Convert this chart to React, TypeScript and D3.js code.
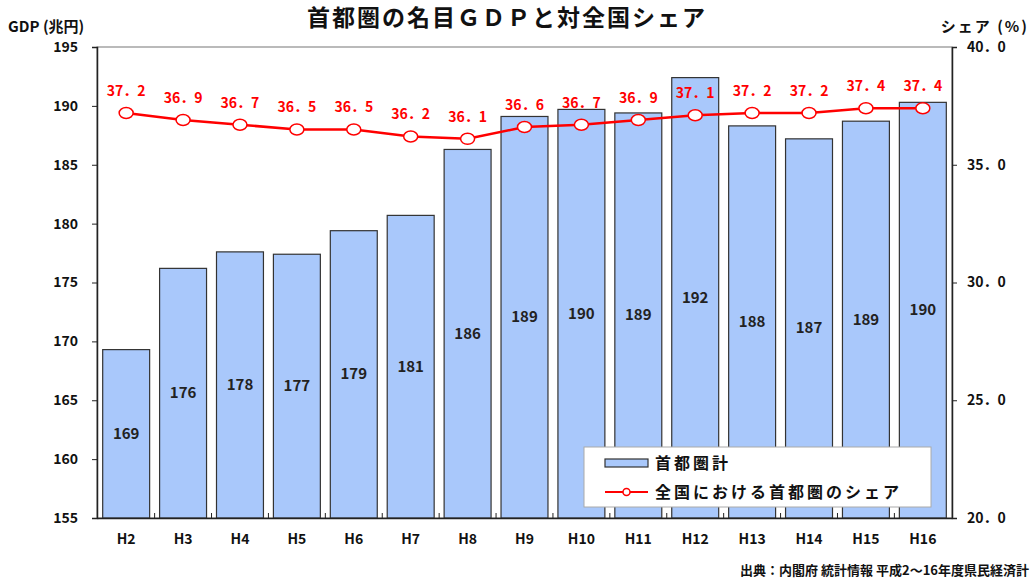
import React, { useEffect, useRef } from 'react';
import * as d3 from 'd3';

// Data
const years = ['H2', 'H3', 'H4', 'H5', 'H6', 'H7', 'H8', 'H9', 'H10', 'H11', 'H12', 'H13', 'H14', 'H15', 'H16'];
const gdp = [169.3, 176.2, 177.6, 177.4, 179.4, 180.7, 186.3, 189.1, 189.7, 189.4, 192.4, 188.3, 187.2, 188.7, 190.3];
const gdpLabels = ['169', '176', '178', '177', '179', '181', '186', '189', '190', '189', '192', '188', '187', '189', '190'];
const share = [37.2, 36.9, 36.7, 36.5, 36.5, 36.2, 36.1, 36.6, 36.7, 36.9, 37.1, 37.2, 37.2, 37.4, 37.4];
const leftTicks = [155, 160, 165, 170, 175, 180, 185, 190, 195];
const rightTicks = [20, 25, 30, 35, 40];

const FONT = '"Noto Sans CJK JP", "Noto Sans", sans-serif';

const App: React.FC = () => {
  const svgRef = useRef<SVGSVGElement>(null);

  useEffect(() => {
    document.body.style.margin = '0';
    if (!svgRef.current) return;

    const margin = { top: 47, right: 81, bottom: 61, left: 97 };
    const W = 1033;
    const H = 579;
    const width = W - margin.left - margin.right;
    const height = H - margin.top - margin.bottom;

    const svg = d3.select(svgRef.current);
    svg.selectAll('*').remove();

    const g = svg.append('g').attr('transform', `translate(${margin.left},${margin.top})`);

    const x = d3.scaleBand().domain(years).range([0, width]).paddingInner(0.175).paddingOuter(0.1);
    const y = d3.scaleLinear().domain([155, 195]).range([height, 0]);
    const y2 = d3.scaleLinear().domain([20, 40]).range([height, 0]);

    // Title & axis titles
    svg.append('text')
      .attr('x', 507).attr('y', 26)
      .attr('text-anchor', 'middle')
      .attr('font-family', FONT).attr('font-weight', 'bold').attr('font-size', 23)
      .attr('letter-spacing', 2)
      .attr('fill', '#111')
      .text('首都圏の名目ＧＤＰと対全国シェア');

    svg.append('text')
      .attr('x', 8).attr('y', 32)
      .attr('font-family', FONT).attr('font-weight', 'bold').attr('font-size', 15)
      .attr('fill', '#111')
      .text('GDP (兆円)');

    svg.append('text')
      .attr('x', 1029).attr('y', 32)
      .attr('text-anchor', 'end')
      .attr('font-family', FONT).attr('font-weight', 'bold').attr('font-size', 15)
      .attr('letter-spacing', 2)
      .attr('fill', '#111')
      .text('シェア (%)');

    // Frame
    g.append('rect')
      .attr('x', 0).attr('y', 0)
      .attr('width', width).attr('height', height)
      .attr('fill', 'none').attr('stroke', '#777').attr('stroke-width', 1);

    // Bars
    g.selectAll('.bar')
      .data(gdp)
      .enter()
      .append('rect')
      .attr('x', (_, i) => x(years[i])!)
      .attr('y', d => y(d))
      .attr('width', x.bandwidth())
      .attr('height', d => height - y(d))
      .attr('fill', '#a9c8fb')
      .attr('stroke', '#333')
      .attr('stroke-width', 1.2);

    // Bar value labels (centered in bar)
    g.selectAll('.barLabel')
      .data(gdp)
      .enter()
      .append('text')
      .attr('x', (_, i) => x(years[i])! + x.bandwidth() / 2)
      .attr('y', d => (y(d) + height) / 2 + 5)
      .attr('text-anchor', 'middle')
      .attr('font-family', FONT).attr('font-weight', 'bold').attr('font-size', 15)
      .attr('fill', '#222')
      .text((_, i) => gdpLabels[i]);

    // Left axis
    const left = g.append('g')
      .call(d3.axisLeft(y).tickValues(leftTicks).tickSize(5).tickPadding(14).tickFormat(d3.format('d')));
    left.select('.domain').attr('stroke', '#222').attr('stroke-width', 1.5);
    left.selectAll('.tick line').attr('stroke', '#222');
    left.selectAll('.tick text')
      .attr('font-family', FONT).attr('font-weight', 'bold').attr('font-size', 14).attr('fill', '#111');

    // Right axis
    const right = g.append('g')
      .attr('transform', `translate(${width},0)`)
      .call(d3.axisRight(y2).tickValues(rightTicks).tickSize(5).tickPadding(10).tickFormat(d => d3.format('.1f')(d as number).replace('.', '．')));
    right.select('.domain').attr('stroke', '#222').attr('stroke-width', 1.5);
    right.selectAll('.tick line').attr('stroke', '#222');
    right.selectAll('.tick text')
      .attr('font-family', FONT).attr('font-weight', 'bold').attr('font-size', 14).attr('fill', '#111');

    // Bottom axis
    const bottom = g.append('g')
      .attr('transform', `translate(0,${height})`)
      .call(d3.axisBottom(x).tickSize(0).tickPadding(16));
    bottom.select('.domain').attr('stroke', '#222').attr('stroke-width', 1.5);
    bottom.selectAll('.tick text')
      .attr('font-family', FONT).attr('font-weight', 'bold').attr('font-size', 14).attr('fill', '#111');

    // category separator ticks (inside)
    g.selectAll('.sep')
      .data(years.slice(1))
      .enter()
      .append('line')
      .attr('x1', d => x(d)! - x.step() * x.paddingInner() / 2)
      .attr('x2', d => x(d)! - x.step() * x.paddingInner() / 2)
      .attr('y1', height)
      .attr('y2', height - 5)
      .attr('stroke', '#222');

    // Share line
    const line = d3.line<number>()
      .x((_, i) => x(years[i])! + x.bandwidth() / 2)
      .y(d => y2(d));

    g.append('path')
      .datum(share)
      .attr('fill', 'none')
      .attr('stroke', '#ff0000')
      .attr('stroke-width', 2.5)
      .attr('d', line);

    g.selectAll('.dot')
      .data(share)
      .enter()
      .append('ellipse')
      .attr('cx', (_, i) => x(years[i])! + x.bandwidth() / 2)
      .attr('cy', d => y2(d))
      .attr('rx', 7)
      .attr('ry', 5.5)
      .attr('fill', '#fff')
      .attr('stroke', '#ff0000')
      .attr('stroke-width', 1.5);

    g.selectAll('.shareLabel')
      .data(share)
      .enter()
      .append('text')
      .attr('x', (_, i) => x(years[i])! + x.bandwidth() / 2)
      .attr('y', d => y2(d) - 17)
      .attr('text-anchor', 'middle')
      .attr('font-family', FONT).attr('font-weight', 'bold').attr('font-size', 14)
      .attr('fill', '#ff0000')
      .text(d => d3.format('.1f')(d).replace('.', '．'));

    // Legend
    const lg = svg.append('g').attr('transform', 'translate(584,447)');
    lg.append('rect')
      .attr('width', 347).attr('height', 60)
      .attr('fill', '#fff').attr('stroke', '#aaa').attr('stroke-width', 1);
    lg.append('rect')
      .attr('x', 21).attr('y', 12).attr('width', 43).attr('height', 8)
      .attr('fill', '#a9c8fb').attr('stroke', '#333').attr('stroke-width', 1.2);
    lg.append('text')
      .attr('x', 71).attr('y', 22)
      .attr('font-family', FONT).attr('font-weight', 'bold').attr('font-size', 16)
      .attr('letter-spacing', 3).attr('fill', '#111')
      .text('首都圏計');
    lg.append('line')
      .attr('x1', 21).attr('x2', 64).attr('y1', 45).attr('y2', 45)
      .attr('stroke', '#ff0000').attr('stroke-width', 2);
    lg.append('circle')
      .attr('cx', 42.5).attr('cy', 45).attr('r', 3.5)
      .attr('fill', '#fff').attr('stroke', '#ff0000').attr('stroke-width', 1.5);
    lg.append('text')
      .attr('x', 71).attr('y', 51)
      .attr('font-family', FONT).attr('font-weight', 'bold').attr('font-size', 16)
      .attr('letter-spacing', 3).attr('fill', '#111')
      .text('全国における首都圏のシェア');

    // Source
    svg.append('text')
      .attr('x', 1029).attr('y', 575)
      .attr('text-anchor', 'end')
      .attr('font-family', FONT).attr('font-weight', 'bold').attr('font-size', 13)
      .attr('fill', '#111')
      .text('出典：内閣府 統計情報 平成2～16年度県民経済計');
  }, []);

  return (
    <div style={{ width: 1033, height: 579 }}>
      <svg ref={svgRef} width={1033} height={579} style={{ display: 'block' }} />
    </div>
  );
};

export default App;
